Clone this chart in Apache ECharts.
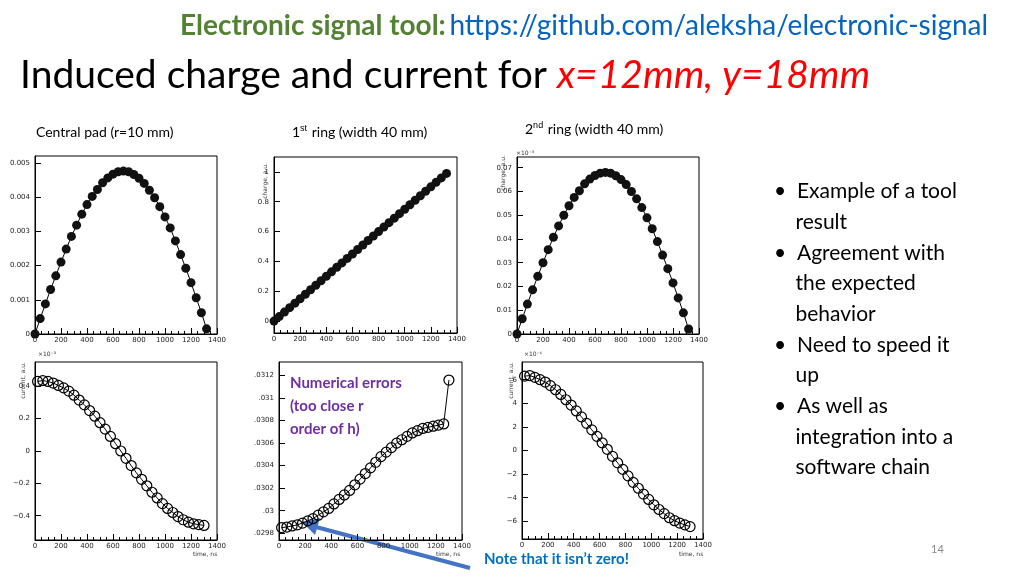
<!DOCTYPE html><html><head><meta charset="utf-8">
<script src="https://cdn.jsdelivr.net/npm/echarts@6/dist/echarts.min.js"></script>
<style>html,body{margin:0;background:#fff}#c{width:1024px;height:576px}</style></head><body><div id="c"></div>
<script>
const timeTop=[0,40,80,120,160,200,240,280,320,360,400,440,480,520,560,600,640,680,720,760,800,840,880,920,960,1000,1040,1080,1120,1160,1200,1240,1280,1320];
const timeBot=[20,60,100,140,180,220,260,300,340,380,420,460,500,540,580,620,660,700,740,780,820,860,900,940,980,1020,1060,1100,1140,1180,1220,1260,1300];
const chargeCentral=[0,0.00045,0.00088,0.0013,0.0017,0.0021,0.00248,0.00285,0.00318,0.0035,0.00378,0.00402,0.00422,0.00442,0.00456,0.00467,0.00474,0.00476,0.00474,0.00466,0.00455,0.0044,0.0042,0.00398,0.00372,0.00342,0.0031,0.00272,0.00232,0.00192,0.0015,0.00106,0.00062,0.00015];
const chargeRing1=[0,.03,.06,.09,.12,.15,.18,.21,.24,.27,.30,.33,.36,.39,.42,.45,.48,.51,.54,.57,.60,.63,.66,.69,.72,.75,.78,.81,.84,.87,.90,.93,.96,.99];
const chargeRing2=[0,.0064,.0126,.0186,.0243,.030,.0355,.0407,.0455,.050,.054,.0575,.0603,.0632,.0652,.0667,.0677,.068,.0677,.0666,.065,.0629,.060,.0569,.0532,.0489,.0443,.0389,.0332,.0275,.0215,.0152,.0089,.0021];
const currentCentral=[0.43,0.435,0.43,0.42,0.405,0.39,0.37,0.345,0.315,0.285,0.25,0.215,0.175,0.135,0.09,0.045,0.0,-0.045,-0.09,-0.135,-0.175,-0.215,-0.255,-0.29,-0.325,-0.355,-0.38,-0.405,-0.425,-0.44,-0.45,-0.455,-0.46];
const currentRing1=[.029850,.029855,.029865,.029875,.02989,.02991,.02993,.02996,.02999,.03002,.03006,.03010,.03014,.03018,.03023,.03028,.03033,.03038,.03043,.03048,.03052,.03056,.03060,.03063,.03066,.03069,.03071,.03073,.03074,.03075,.03076,.03077,.03116];
const currentRing2=[6.3,6.35,6.2,6.0,5.8,5.5,5.15,4.75,4.3,3.85,3.35,2.85,2.3,1.75,1.2,0.65,0.1,-0.5,-1.05,-1.6,-2.15,-2.7,-3.2,-3.7,-4.15,-4.6,-5.0,-5.35,-5.7,-5.95,-6.15,-6.3,-6.45];
const yTicks=[[0,0.001,0.002,0.003,0.004,0.005],[0,0.2,0.4,0.6,0.8,1],[0,0.01,0.02,0.03,0.04,0.05,0.06,0.07],[-0.4,-0.2,0,0.2,0.4],[0.0298,0.03,0.0302,0.0304,0.0306,0.0308,0.031,0.0312],[-6,-4,-2,0,2,4,6]];

const boxes=[[35,156,217,334],[274,157,457,333],[517,157,699,334],[35,362,217,540],[279,362,462,540],[522,362,703,539]];
const yr=[[0,0.0052],[-0.08,1.1],[0,0.0745],[-0.55,0.55],[0.02974,0.03132],[-7.5,7.5]];
const sets=[[timeTop,chargeCentral,1],[timeTop,chargeRing1,1],[timeTop,chargeRing2,1],[timeBot,currentCentral,0],[timeBot,currentRing1,0],[timeBot,currentRing2,0]];
const fmts=[v=>v===0?'0':v.toFixed(3),v=>v===0?'0':String(+v.toFixed(1)),v=>v===0?'0':String(+v.toFixed(2)),v=>v===0?'0':(v<0?'\u2212':'')+Math.abs(v).toFixed(1),v=>(+v.toFixed(4)).toString().replace(/^0/,''),v=>v===0?'0':(v<0?'\u2212':'')+Math.abs(v)];
const grid=[],xAxis=[],yAxis=[],series=[];
boxes.forEach((b,i)=>{
 grid.push({left:b[0],top:b[1],width:b[2]-b[0],height:b[3]-b[1],show:true,borderColor:'#000',borderWidth:1,backgroundColor:'#fff'});
 xAxis.push({gridIndex:i,type:'value',min:0,max:1400,interval:200,axisLine:{onZero:false,lineStyle:{color:'#000'}},axisTick:{inside:true,length:6,lineStyle:{color:'#000'}},minorTick:{show:true,splitNumber:4,length:3,lineStyle:{color:'#000'}},splitLine:{show:false},axisLabel:{fontSize:7,color:'#222',margin:3,fontFamily:'DejaVu Sans',formatter:v=>String(v)}});
 yAxis.push({gridIndex:i,type:'value',min:yr[i][0],max:yr[i][1],axisLine:{onZero:false,lineStyle:{color:'#000'}},axisTick:{inside:true,length:6,customValues:yTicks[i],lineStyle:{color:'#000'}},splitLine:{show:false},axisLabel:{fontSize:7,color:'#222',margin:5,fontFamily:'DejaVu Sans',customValues:yTicks[i],formatter:fmts[i]}});
 const s=sets[i];
 series.push({type:'line',xAxisIndex:i,yAxisIndex:i,data:s[0].map((x,k)=>[x,s[1][k]]),symbol:'circle',symbolSize:s[2]?9:10,showSymbol:true,lineStyle:{color:'#000',width:1},itemStyle:s[2]?{color:'#111',borderWidth:0}:{color:'rgba(255,255,255,0)',borderColor:'#000',borderWidth:1.2},animation:false,z:3});
});
const F='Lato, "Open Sans", sans-serif';
function t(x,y,text,o){return {type:'text',left:x,top:y,style:Object.assign({text:text,font:'14px '+F,fill:'#000'},o||{})};}
function v(x,y,text){return {type:'text',x:x,y:y,rotation:Math.PI/2,style:{text:text,font:'6px DejaVu Sans',fill:'#333',align:'right'}};}
const g=[
 t(180,12,'',{rich:{a:{fontSize:28,fontWeight:'bold',fill:'#548235',fontFamily:F},b:{fontSize:28,fill:'#0563C1',fontFamily:F}},text:'{a|Electronic signal tool:} {b|https://github.com/aleksha/electronic-signal}'}),
 t(20,56,'',{text:'{a|Induced charge and current for }{b|x=12mm, y=18mm}',rich:{a:{fontSize:39,fill:'#000',fontFamily:F},b:{fontSize:39,fill:'#FF0000',fontStyle:'italic',fontFamily:F}}}),
 t(36,125,'Central pad (r=10 mm)',{font:'14px '+F}),
 t(292,124,'',{text:'1{s|st} ring (width 40 mm)',font:'14px '+F,rich:{s:{fontSize:9,padding:[0,1,8,0]}}}),
 t(525,121,'',{text:'2{s|nd} ring (width 40 mm)',font:'14px '+F,rich:{s:{fontSize:9,padding:[0,1,8,0]}}}),
 t(290,372,'Numerical errors\n(too close r\norder of h)',{font:'bold 15px '+F,fill:'#7030A0',lineHeight:23}),
 t(484,552,'Note that it isn\u2019t zero!',{font:'bold 15px '+F,fill:'#0070C0'}),
 t(931,544,'14',{font:'11px '+F,fill:'#888'}),
 t(774,176,'\u2022  Example of a tool\n    result\n\u2022  Agreement with\n    the expected\n    behavior\n\u2022  Need to speed it\n    up\n\u2022  As well as\n    integration into a\n    software chain',{font:'21px '+F,lineHeight:30.7}),
 {type:'line',shape:{x1:470,y1:568,x2:316,y2:527},style:{stroke:'#4472C4',lineWidth:4}},
 {type:'polygon',shape:{points:[[302,522],[320,518],[315,535]]},style:{fill:'#4472C4'}},
 t(38,351,'\u00d710\u207b\u00b3',{font:'6px DejaVu Sans',fill:'#333'}),
 t(516,150,'\u00d710\u207b\u00b3',{font:'6px DejaVu Sans',fill:'#333'}),
 t(524,351,'\u00d710\u207b\u2076',{font:'6px DejaVu Sans',fill:'#333'}),
 t(193,551,'time, ns',{font:'6px DejaVu Sans',fill:'#333'}),
 t(436,551,'time, ns',{font:'6px DejaVu Sans',fill:'#333'}),
 t(679,551,'time, ns',{font:'6px DejaVu Sans',fill:'#333'}),
 v(262,163,'charge, a.u.'),v(500,155,'charge, a.u.'),v(20,362,'current, a.u.'),v(508,362,'current, a.u.')
];
const ch=echarts.init(document.getElementById('c'));
ch.setOption({animation:false,grid,xAxis,yAxis,series,graphic:g});
</script></body></html>
